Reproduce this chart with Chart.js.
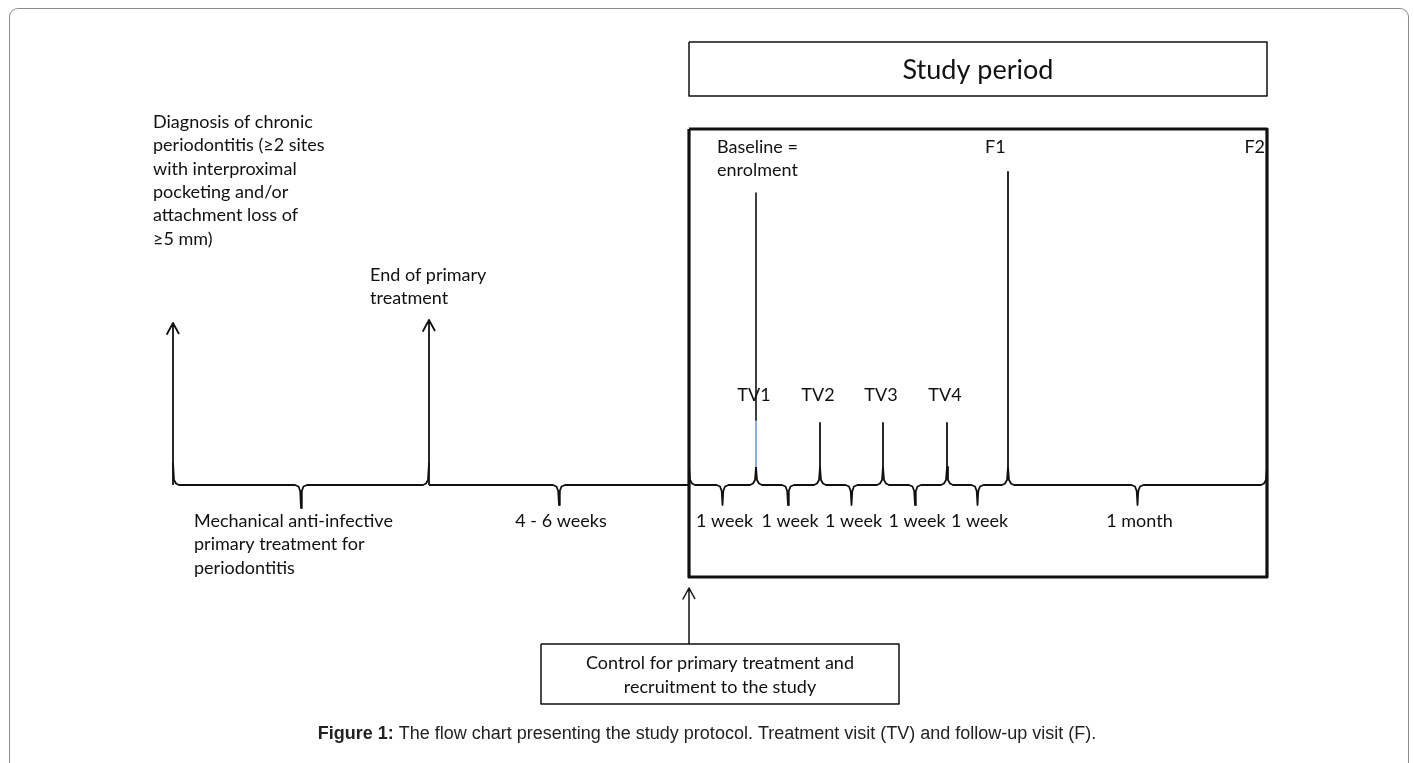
<!DOCTYPE html>
<html>
<head>
<meta charset="utf-8">
<title>Study protocol flow chart</title>
<script src="https://cdn.jsdelivr.net/npm/chart.js@4.4.1/dist/chart.umd.min.js"></script>
<style>
  html, body { margin: 0; padding: 0; background: #fff; overflow: hidden; }
  #wrap { position: relative; width: 1414px; height: 763px; overflow: hidden; }
  #frame {
    position: absolute; left: 9px; top: 8px; width: 1400px; height: 780px;
    border: 1.5px solid #8c8c8c; border-bottom: none; border-radius: 9px 9px 0 0;
    box-sizing: border-box; pointer-events: none;
  }
</style>
</head>
<body>
<div id="wrap">
  <canvas id="flow" width="1414" height="763"></canvas>
  <div id="frame"></div>
</div>
<script>
// --- data: events on the time line (diagram x units) and their texts ---
const eventNames = ["Diagnosis", "End of primary treatment", "Control", "TV1", "TV2", "TV3", "TV4", "F1", "F2"];
const eventX = [173, 429, 689, 756, 820, 883, 947, 1008, 1267];

const periodLabels = ["Mechanical anti-infective\nprimary treatment for\nperiodontitis", "4 - 6 weeks",
  "1 week", "1 week", "1 week", "1 week", "1 week", "1 month"];
const visitLabels = ["TV1", "TV2", "TV3", "TV4"];
const followUpLabels = ["F1", "F2"];
const diagnosisText = ["Diagnosis of chronic", "periodontitis (\u22652 sites", "with interproximal",
  "pocketing and/or", "attachment loss of", "\u22655 mm)"];
const endPrimaryText = ["End of primary", "treatment"];
const baselineText = ["Baseline =", "enrolment"];
const studyTitle = "Study period";
const controlText = ["Control for primary treatment and", "recruitment to the study"];
const captionBold = "Figure 1:";
const captionText = " The flow chart presenting the study protocol. Treatment visit (TV) and follow-up visit (F).";

// --- layout ---
const W = 1414, H = 763;
const LINE_Y = 485;
const STUDY_BOX = { x0: 689, x1: 1267, y0: 42, y1: 96 };
const PERIOD_BOX = { x0: 689, x1: 1267, y0: 129, y1: 577 };
const CONTROL_BOX = { x0: 541, x1: 899, y0: 644, y1: 704 };
const BODY_FONT = "18px Lato, 'Open Sans', sans-serif";
const INK = "#111";

const bracePoints = (x0, x1, y, curl, tip) => {
  const mid = (x0 + x1) / 2;
  const pts = [];
  if (curl) pts.push({ x: x0, y: y - curl }, { x: x0 + 1, y: y - 5 }, { x: x0 + 3, y: y - 1.5 }, { x: x0 + 6, y: y });
  else pts.push({ x: x0, y: y });
  pts.push({ x: mid - 6, y: y }, { x: mid - 2.5, y: y + 1.5 }, { x: mid - 0.8, y: y + 6 }, { x: mid, y: y + tip },
    { x: mid + 0.8, y: y + 6 }, { x: mid + 2.5, y: y + 1.5 }, { x: mid + 6, y: y });
  if (curl) pts.push({ x: x1 - 6, y: y }, { x: x1 - 3, y: y - 1.5 }, { x: x1 - 1, y: y - 5 }, { x: x1, y: y - curl });
  else pts.push({ x: x1, y: y });
  return pts;
};

const arrowPoints = (x, yFrom, yTip) => [
  { x: x, y: yFrom }, { x: x, y: yTip }, { x: x - 6, y: yTip + 11 }, { x: x, y: yTip }, { x: x + 6, y: yTip + 11 }
];

const boxPoints = (b) => [
  { x: b.x0, y: b.y0 }, { x: b.x1, y: b.y0 }, { x: b.x1, y: b.y1 }, { x: b.x0, y: b.y1 }, { x: b.x0, y: b.y0 }
];

const stroke = (data, width, color) => ({
  data: data, showLine: true, pointRadius: 0, borderWidth: width,
  borderColor: color || INK, fill: false, tension: 0, borderJoinStyle: "round", borderCapStyle: "butt"
});

const datasets = [];

// braces under the time line
const curls = [22, 0, 18, 18, 18, 18, 18, 18];
const tips = [23, 20, 20, 20, 20, 20, 20, 20];
for (let i = 0; i < eventX.length - 1; i++) {
  datasets.push(stroke(bracePoints(eventX[i], eventX[i + 1], LINE_Y, curls[i], tips[i]), 1.8));
}

// arrows
datasets.push(stroke(arrowPoints(eventX[0], LINE_Y, 323), 1.8));
datasets.push(stroke(arrowPoints(eventX[1], LINE_Y, 320), 1.8));
datasets.push(stroke(arrowPoints(eventX[2], CONTROL_BOX.y0, 588), 1.5));

// visit markers
datasets.push(stroke([{ x: eventX[3], y: 193 }, { x: eventX[3], y: 420 }], 1.6));
datasets.push(stroke([{ x: eventX[3], y: 420 }, { x: eventX[3], y: LINE_Y - 18 }], 1.6, "#6f9bd1"));
for (let i = 4; i <= 6; i++) {
  datasets.push(stroke([{ x: eventX[i], y: 423 }, { x: eventX[i], y: LINE_Y - 18 }], 1.8));
}
datasets.push(stroke([{ x: eventX[7], y: 172 }, { x: eventX[7], y: LINE_Y - 18 }], 1.8));

// boxes
datasets.push(stroke(boxPoints(STUDY_BOX), 1.5));
datasets.push(stroke(boxPoints(PERIOD_BOX), 3.2));
datasets.push(stroke(boxPoints(CONTROL_BOX), 1.5));

// --- text drawn against the same scales ---
const textPlugin = {
  id: "flowText",
  afterDatasetsDraw(chart) {
    const ctx = chart.ctx;
    const px = (v) => chart.scales.x.getPixelForValue(v);
    const py = (v) => chart.scales.y.getPixelForValue(v);
    const write = (lines, x, y, align, step, font) => {
      ctx.font = font || BODY_FONT;
      ctx.textAlign = align;
      lines.forEach((t, k) => ctx.fillText(t, px(x), py(y + k * (step || 23.4))));
    };
    ctx.save();
    ctx.fillStyle = INK;
    ctx.textBaseline = "middle";

    write(diagnosisText, 153, 122, "left");
    write(endPrimaryText, 370, 275, "left");
    write(baselineText, 717, 147, "left");
    write([followUpLabels[0]], eventX[7] - 23, 147, "left");
    write([followUpLabels[1]], eventX[8] - 2, 147, "right");

    visitLabels.forEach((t, k) => write([t], eventX[k + 3] - 2, 395, "center"));

    write(periodLabels[0].split("\n"), 194, 521, "left");
    for (let i = 1; i < periodLabels.length; i++) {
      write([periodLabels[i]], (eventX[i] + eventX[i + 1]) / 2 + 2, 521, "center");
    }

    write([studyTitle], (STUDY_BOX.x0 + STUDY_BOX.x1) / 2, 70, "center", 0, "27px Lato, 'Open Sans', sans-serif");
    write(controlText, (CONTROL_BOX.x0 + CONTROL_BOX.x1) / 2, 663, "center", 24);

    // caption: bold lead-in followed by regular text, centred as one line
    const boldFont = "bold 18px 'Liberation Sans', Arial, sans-serif";
    const regFont = "18px 'Liberation Sans', Arial, sans-serif";
    ctx.font = boldFont;
    const wb = ctx.measureText(captionBold).width;
    ctx.font = regFont;
    const wr = ctx.measureText(captionText).width;
    const start = px(W / 2) - (wb + wr) / 2;
    ctx.textAlign = "left";
    ctx.fillStyle = "#222";
    ctx.font = boldFont;
    ctx.fillText(captionBold, start, py(734));
    ctx.font = regFont;
    ctx.fillText(captionText, start + wb, py(734));
    ctx.restore();
  }
};

new Chart(document.getElementById("flow"), {
  type: "scatter",
  data: { datasets: datasets },
  options: {
    responsive: false,
    animation: false,
    devicePixelRatio: 1,
    layout: { padding: 0 },
    plugins: { legend: { display: false }, tooltip: { enabled: false } },
    scales: {
      x: { type: "linear", min: 0, max: W, display: false },
      y: { type: "linear", min: 0, max: H, reverse: true, display: false }
    }
  },
  plugins: [textPlugin]
});
</script>
</body>
</html>
